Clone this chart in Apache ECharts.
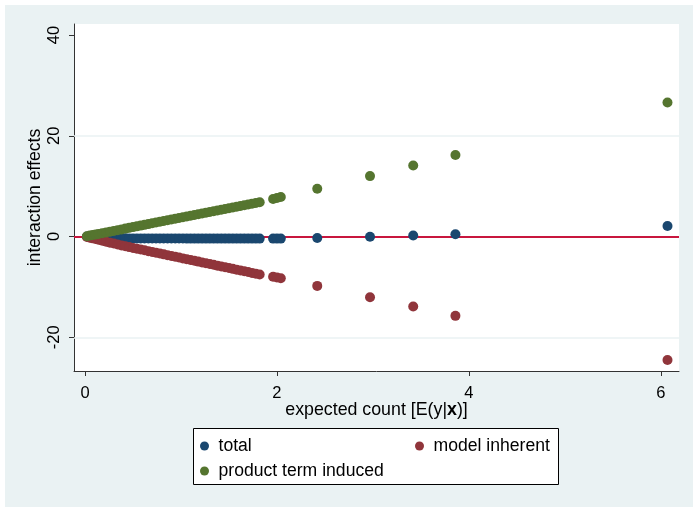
<!DOCTYPE html>
<html>
<head>
<meta charset="utf-8">
<script src="https://cdn.jsdelivr.net/npm/echarts@6/dist/echarts.min.js"></script>
<style>
  html, body { margin: 0; padding: 0; background: #fff; }
  #chart { width: 693px; height: 507px; }
</style>
</head>
<body>
<div id="chart"></div>
<script>
// expected count [E(y|x)]
const xs = [0.02, 0.05, 0.08, 0.11, 0.14, 0.18, 0.22, 0.26, 0.30, 0.34, 0.38, 0.42, 0.46, 0.50,
  0.54, 0.58, 0.62, 0.66, 0.70, 0.74, 0.78, 0.82, 0.86, 0.90, 0.94, 0.98, 1.02, 1.06, 1.10,
  1.14, 1.18, 1.22, 1.26, 1.30, 1.34, 1.38, 1.42, 1.46, 1.50, 1.54, 1.58, 1.62, 1.66, 1.70,
  1.74, 1.78, 1.82, 1.96, 2.00, 2.04, 2.42, 2.97, 3.42, 3.86, 6.07];

const totalVals = [-0.01, -0.03, -0.06, -0.09, -0.12, -0.16, -0.20, -0.24, -0.28, -0.31, -0.34, -0.36,
  -0.37, -0.37, -0.38, -0.38, -0.38, -0.39, -0.39, -0.39, -0.39, -0.40, -0.40, -0.40, -0.40,
  -0.40, -0.40, -0.41, -0.41, -0.41, -0.41, -0.41, -0.41, -0.41, -0.41, -0.41, -0.41, -0.41,
  -0.41, -0.41, -0.41, -0.41, -0.41, -0.41, -0.41, -0.41, -0.41, -0.41, -0.41, -0.41,
  -0.30, -0.05, 0.20, 0.45, 2.10];

const inherentVals = [-0.08, -0.22, -0.36, -0.50, -0.64, -0.83, -1.02, -1.21, -1.40, -1.58, -1.76,
  -1.93, -2.10, -2.26, -2.42, -2.58, -2.74, -2.90, -3.06, -3.22, -3.38, -3.54, -3.70, -3.86,
  -4.02, -4.18, -4.34, -4.50, -4.66, -4.82, -4.98, -5.14, -5.30, -5.46, -5.62, -5.78, -5.94,
  -6.10, -6.26, -6.42, -6.58, -6.74, -6.90, -7.06, -7.22, -7.38, -7.54, -8.00, -8.15, -8.30,
  -9.80, -12.05, -13.90, -15.75, -24.50];

const productVals = [0.07, 0.19, 0.30, 0.41, 0.52, 0.67, 0.82, 0.97, 1.12, 1.27, 1.42, 1.57, 1.72,
  1.87, 2.02, 2.17, 2.32, 2.47, 2.62, 2.77, 2.92, 3.07, 3.22, 3.37, 3.52, 3.67, 3.82, 3.97,
  4.12, 4.27, 4.42, 4.57, 4.72, 4.87, 5.02, 5.17, 5.32, 5.47, 5.62, 5.77, 5.92, 6.07, 6.22,
  6.37, 6.52, 6.67, 6.82, 7.45, 7.65, 7.85, 9.50, 12.00, 14.10, 16.20, 26.60];

const xTicks = [0, 2, 4, 6];
const yTicks = [-20, 0, 20, 40];
const seriesNames = ['total', 'model inherent', 'product term induced'];

const font = 'Liberation Sans, Arial, sans-serif';
const bg = '#eaf2f3';

function pairs(vals) {
  return xs.map((x, i) => [x, vals[i]]);
}

const chart = echarts.init(document.getElementById('chart'));

function scatter(name, vals, color, extra) {
  return Object.assign({
    name: name,
    type: 'scatter',
    data: pairs(vals),
    symbol: 'circle',
    symbolSize: 10,
    itemStyle: { color: color, opacity: 1 },
    emphasis: { disabled: true },
    animation: false
  }, extra || {});
}

function legendAt(name, left, top) {
  return {
    data: [name],
    left: left,
    top: top,
    padding: 0,
    icon: 'circle',
    itemWidth: 18,
    itemHeight: 9,
    selectedMode: false,
    textStyle: { fontFamily: font, fontSize: 17.6, color: '#000' }
  };
}

chart.setOption({
  backgroundColor: '#fff',
  animation: false,
  graphic: [
    { type: 'rect', left: 5, top: 5, shape: { width: 688, height: 502 },
      style: { fill: bg }, z: -10, silent: true },
    { type: 'rect', left: 193, top: 428, shape: { width: 365, height: 56 },
      style: { fill: '#fff', stroke: '#000', lineWidth: 1 }, z: 0, silent: true }
  ],
  grid: { left: 74, right: 14, top: 24, bottom: 136, backgroundColor: '#fff', show: true, borderWidth: 0 },
  legend: [
    legendAt(seriesNames[0], 200, 437),
    legendAt(seriesNames[1], 415, 437),
    legendAt(seriesNames[2], 200, 462)
  ],
  xAxis: {
    type: 'value',
    min: -0.115,
    max: 6.19,
    name: '{a|expected count [E(y|}{b|x}{a|)]}',
    nameLocation: 'middle',
    nameGap: 30,
    nameMoveOverlap: false,
    nameTextStyle: {
      rich: {
        a: { fontFamily: font, fontSize: 17.8, color: '#000' },
        b: { fontFamily: font, fontSize: 17.8, color: '#000', fontWeight: 'bold' }
      }
    },
    axisLine: { show: true, onZero: false, lineStyle: { color: '#333', width: 1 } },
    axisTick: { show: true, length: 5, customValues: xTicks, lineStyle: { color: '#333' } },
    axisLabel: { customValues: xTicks, margin: 14, fontFamily: font, fontSize: 16.5, color: '#000' },
    splitLine: { show: false }
  },
  yAxis: {
    type: 'value',
    min: -26.7,
    max: 42.2,
    name: 'interaction effects',
    nameLocation: 'middle',
    nameRotate: 90,
    nameGap: 30,
    nameMoveOverlap: false,
    nameTextStyle: { fontFamily: font, fontSize: 17.6, color: '#000' },
    axisLine: { show: true, onZero: false, lineStyle: { color: '#333', width: 1 } },
    axisTick: { show: true, length: 5, customValues: yTicks, lineStyle: { color: '#333' } },
    axisLabel: { customValues: yTicks, rotate: 90, margin: 11, fontFamily: font, fontSize: 16.5, color: '#000' },
    splitLine: { show: false }
  },
  series: [
    scatter(seriesNames[0], totalVals, '#1a476f', {
      markLine: {
        silent: true,
        z: 1,
        symbol: 'none',
        label: { show: false },
        animation: false,
        data: [
          { yAxis: 20, lineStyle: { color: bg, width: 1.5, type: 'solid' } },
          { yAxis: -20, lineStyle: { color: bg, width: 1.5, type: 'solid' } },
          { yAxis: 0, lineStyle: { color: '#c8163e', width: 2, type: 'solid' } }
        ]
      }
    }),
    scatter(seriesNames[1], inherentVals, '#90353b'),
    scatter(seriesNames[2], productVals, '#55752f')
  ]
});
</script>
</body>
</html>
